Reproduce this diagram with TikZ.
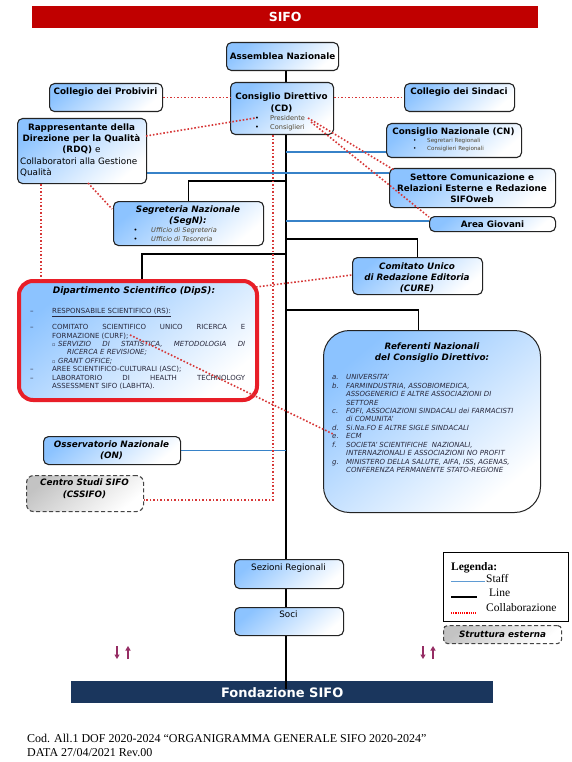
\documentclass[tikz,border=0pt]{standalone}
\usepackage{fontspec}
\setmainfont{DejaVu Sans}
\newfontfamily\tnr{Liberation Serif}
\usetikzlibrary{arrows.meta}
\pgfdeclarelayer{bg}
\pgfsetlayers{bg,main}
\definecolor{sifored}{RGB}{192,0,0}
\definecolor{navy}{RGB}{26,54,93}
\definecolor{boxblue}{RGB}{140,195,255}
\definecolor{boxline}{RGB}{35,35,35}
\definecolor{dipred}{RGB}{232,30,40}
\definecolor{staffblue}{RGB}{55,130,200}
\definecolor{collabred}{RGB}{215,55,55}
\definecolor{bultext}{RGB}{80,70,50}
\definecolor{listtext}{RGB}{40,40,60}
\definecolor{arrowpurple}{RGB}{150,45,100}
\definecolor{greyfill}{RGB}{195,195,195}
\newcommand{\fsb}{\fontsize{8.8}{11}\selectfont}
\tikzset{
 box/.style={draw=boxline, line width=1.1pt, rounded corners=5pt, top color=boxblue, bottom color=white, shading angle=40, inner sep=0pt, anchor=north west},
 extbox/.style={box, draw=boxline!85, dash pattern=on 4pt off 2.5pt, top color=greyfill, bottom color=white, shading angle=40},
 hd/.style={font=\fsb\bfseries, align=center, inner sep=0pt, anchor=north},
 hdi/.style={font=\fsb\bfseries\itshape, align=center, inner sep=0pt, anchor=north},
 rg/.style={font=\fsb, align=left, inner sep=0pt, anchor=north},
 small/.style={font=\fontsize{6.6}{9}\selectfont, text=bultext, inner sep=0pt, anchor=north west, align=left},
 legtxt/.style={font=\tnr\fontsize{11.5}{13}\selectfont, inner sep=0pt, anchor=north west},
 linek/.style={line width=1.6pt, black},
 staff/.style={line width=1.1pt, staffblue},
 collab/.style={line width=1.6pt, collabred, dash pattern=on 1.6pt off 1.9pt},
 arrowst/.style={arrowpurple, line width=1.6pt, -{Triangle[length=4.5pt,width=5pt]}},
}
\begin{document}
\begin{tikzpicture}[x=1pt,y=-1pt]
\useasboundingbox (0,0) rectangle (572,762);
\begin{pgfonlayer}{bg}
\fill[white] (0,0) rectangle (572,762);
\end{pgfonlayer}
\coordinate (M) at (286,0);

% title bar
\node[fill=sifored, minimum width=506pt, minimum height=22pt, inner sep=0pt, anchor=north west, text=white, font=\fontsize{12.5}{14}\selectfont\bfseries] (title) at (32,6) {SIFO};

% boxes
\node[box, minimum width=112pt, minimum height=28pt, font=\fsb\bfseries] (asm) at (226,42) {Assemblea Nazionale};

\node[box, minimum width=113pt, minimum height=28pt] (prob) at (49,83) {};
\node[hd] (prob-t) at (105.5,87.5) {Collegio dei Probiviri};

\node[box, minimum width=103pt, minimum height=52pt] (cd) at (230,82) {};
\node[hd] (cd-t) at (281.5,92.5) {Consiglio Direttivo\\[1pt](CD)};
\node[small] (cd-b) at (255,115.3) {\makebox[15pt][l]{\color{black}•}Presidente\\\makebox[15pt][l]{\color{black}•}Consiglieri};

\node[box, minimum width=110pt, minimum height=28pt] (sind) at (404,83) {};
\node[hd] (sind-t) at (459,87.5) {Collegio dei Sindaci};

\node[box, minimum width=129pt, minimum height=65pt] (rdq) at (17,118) {};
\node[hd] (rdq-t) at (81.5,123.5) {Rappresentante della\\Direzione per la Qualità\\(RDQ) {\mdseries e}};
\node[rg, anchor=north west] (rdq-t2) at (20,157.5) {Collaboratori alla Gestione\\Qualità};

\node[box, minimum width=135pt, minimum height=34pt] (cn) at (386,123) {};
\node[hd] (cn-t) at (453.5,127.5) {Consiglio Nazionale (CN)};
\node[small, font=\fontsize{5.6}{8}\selectfont] (cn-b) at (413,137.8) {\makebox[14pt][l]{\color{black}•}Segretari Regionali\\\makebox[14pt][l]{\color{black}•}Consiglieri Regionali};

\node[box, minimum width=166pt, minimum height=39pt] (set) at (389,168) {};
\node[hd] (set-t) at (472,173.5) {Settore Comunicazione e\\Relazioni Esterne e Redazione\\SIFOweb};

\node[box, minimum width=126pt, minimum height=15pt, font=\fsb\bfseries] (ag) at (429,216) {Area Giovani};

\node[box, minimum width=150pt, minimum height=44pt] (segn) at (113,201) {};
\node[hdi] (segn-t) at (188,205.5) {Segreteria Nazionale\\(SegN):};
\node[small, font=\fontsize{6.6}{8.5}\selectfont\itshape] (segn-b) at (133.5,227.4) {\makebox[17.5pt][l]{\color{black}\upshape•}Ufficio di Segreteria\\\makebox[17.5pt][l]{\color{black}\upshape•}Ufficio di Tesoreria};

\node[box, minimum width=130pt, minimum height=37pt] (cure) at (352,257) {};
\node[hdi] (cure-t) at (417,262.5) {Comitato Unico\\di Redazione Editoria\\(CURE)};

\node[box, draw=dipred, line width=4pt, rounded corners=14pt, minimum width=238pt, minimum height=119pt] (dips) at (17,279) {};
\node[hdi, font=\fontsize{9}{11}\selectfont\bfseries\itshape] (dips-t) at (134,286.5) {Dipartimento Scientifico (DipS):};
\node[inner sep=0pt, anchor=north west, font=\fontsize{7}{8.4}\selectfont, text=listtext] (dips-l) at (30,307.7) {%
\begin{tabular}{@{}l@{}l@{}}
\makebox[22pt][l]{–}&\underline{RESPONSABILE SCIENTIFICO (RS):}\\[7.6pt]
–&\makebox[193pt][s]{COMITATO SCIENTIFICO UNICO RICERCA E}\\
&FORMAZIONE (CURF);\\
&\makebox[193pt][s]{\itshape\makebox[6pt][l]{\fontsize{5}{5}\selectfont▫}SERVIZIO DI STATISTICA, METODOLOGIA DI}\\
&\hspace{15pt}\itshape RICERCA E REVISIONE;\\
&\itshape\makebox[6pt][l]{\fontsize{5}{5}\selectfont▫}GRANT OFFICE;\\
–&AREE SCIENTIFICO-CULTURALI (ASC);\\
–&\makebox[193pt][s]{LABORATORIO DI HEALTH TECHNOLOGY}\\
&ASSESSMENT SIFO (LABHTA).
\end{tabular}};

\node[box, rounded corners=26pt, line width=1pt, minimum width=217pt, minimum height=182pt] (ref) at (323,330) {};
\node[hdi] (ref-t) at (432,342.5) {Referenti Nazionali\\del Consiglio Direttivo:};
\node[inner sep=0pt, anchor=north west, font=\fontsize{7}{8.45}\selectfont\itshape, text=listtext] (ref-l) at (332,373.6) {%
\begin{tabular}{@{}l@{}l@{}}
\makebox[14pt][l]{a.}&UNIVERSITA’\\
b.&FARMINDUSTRIA, ASSOBIOMEDICA,\\
&ASSOGENERICI E ALTRE ASSOCIAZIONI DI\\
&SETTORE\\
c.&FOFI, ASSOCIAZIONI SINDACALI dei FARMACISTI\\
&di COMUNITA’\\
d.&Si.Na.FO E ALTRE SIGLE SINDACALI\\
e.&ECM\\
f.&SOCIETA’ SCIENTIFICHE\ \ NAZIONALI,\\
&INTERNAZIONALI E ASSOCIAZIONI NO PROFIT\\
g.&MINISTERO DELLA SALUTE, AIFA, ISS, AGENAS,\\
&CONFERENZA PERMANENTE STATO-REGIONE
\end{tabular}};

\node[box, minimum width=137pt, minimum height=28pt] (on) at (43,436) {};
\node[hdi] (on-t) at (111.5,440.5) {Osservatorio Nazionale\\(ON)};

\node[extbox, rounded corners=7pt, minimum width=117pt, minimum height=36pt] (css) at (26,475) {};
\node[hdi] (css-t) at (84.5,478.5) {Centro Studi SIFO\\[1pt](CSSIFO)};

\node[box, minimum width=109pt, minimum height=29pt] (sez) at (234,559) {};
\node[rg] (sez-t) at (288.5,563.5) {Sezioni Regionali};
\node[box, minimum width=109pt, minimum height=28pt] (soci) at (234,607) {};
\node[rg] (soci-t) at (288.5,610.5) {Soci};

% legend
\node[draw=black, line width=0.8pt, fill=white, minimum width=125pt, minimum height=69pt, anchor=north west, inner sep=0pt] (leg) at (443,552) {};
\node[legtxt, font=\tnr\fontsize{11.5}{13}\selectfont\bfseries] (leg-t) at (451,562) {Legenda:};
\node[legtxt] (leg-s) at (486,573.9) {Staff};
\node[legtxt] (leg-l) at (489,588.9) {Line};
\node[legtxt] (leg-c) at (486,602.9) {Collaborazione};
\coordinate (ls1) at (451,581); \coordinate (ls2) at (485,581);
\coordinate (lk1) at (451,597); \coordinate (lk2) at (477,597);
\coordinate (lc1) at (451,613); \coordinate (lc2) at (477,613);
\draw[staffblue!80, line width=1pt] (ls1) -- (ls2);
\draw[black, line width=1.5pt] (lk1) -- (lk2);
\draw[red, line width=1.1pt, dash pattern=on 1.1pt off 1.1pt] (lc1) -- (lc2);
\node[extbox, rounded corners=4pt, minimum width=118pt, minimum height=18pt, font=\fsb\bfseries\itshape] (ext) at (443,625) {Struttura esterna};

% Fondazione bar
\node[fill=navy, minimum width=422pt, minimum height=22pt, anchor=north west, inner sep=0pt, text=white, font=\fontsize{13}{15}\selectfont\bfseries] (fond) at (71,681) {Fondazione SIFO};
\coordinate (fend) at (286,689);
\draw[linek] (soci.south -| M) -- (fend);

% arrows
\draw[arrowst] (117,646) -- (117,659);
\draw[arrowst] (128,659) -- (128,646);
\draw[arrowst] (423,646) -- (423,659);
\draw[arrowst] (433,659) -- (433,646);

% footer
\node[anchor=north west, inner sep=0pt, align=left, font=\tnr\fontsize{12}{14}\selectfont] (foot) at (27,733.8) {Cod. All.1 DOF 2020-2024 “ORGANIGRAMMA GENERALE SIFO 2020-2024”\\DATA 27/04/2021 Rev.00};

% junction coordinates
\coordinate (j1) at (286,181);
\coordinate (j2) at (286,239);
\coordinate (j3) at (286,254);
\coordinate (j4) at (286,310);
\coordinate (j5) at (286,152);
\coordinate (j6) at (286,221);
\coordinate (s2) at (146,173);

\begin{pgfonlayer}{bg}
% line connections
\draw[linek] (asm.south -| M) -- (cd.north -| M);
\draw[linek] (cd.south -| M) -- (sez.north -| M);
\draw[linek] (sez.south -| M) -- (soci.north -| M);
\draw[linek] (j1) -| (segn.north);
\draw[linek] (j2) -| (cure.north);
\draw[linek] (j3) -| ([xshift=4pt]dips.north);
\draw[linek] (j4) -| ([xshift=-13.5pt]ref.north);
% staff
\draw[staff] (j5) -- (j5 -| cn.west);
\draw[staff] (s2) -- (s2 -| set.west);
\draw[staff] (j6) -- (j6 -| ag.west);
\draw[staff] (on.east) -- (on.east -| M);
\end{pgfonlayer}

% collaboration
\coordinate (cdp1) at (255,118);
\coordinate (cdp2) at (308,118);
\coordinate (cdp3) at (311,122);
\coordinate (rdqa) at (146,136);
\coordinate (cv) at (273,500);
\coordinate (dx) at (41,0);
\coordinate (rsa) at (88,183);
\coordinate (rsb) at (112,209);
\coordinate (dca) at (256,287);
\coordinate (dcb) at (352,275);
\coordinate (dra) at (130,335);
\coordinate (drb) at (333,434);
\draw[collab] (prob.east) -- (prob.east -| cd.west);
\draw[collab] (sind.west -| cd.east) -- (sind.west);
\draw[collab] (rdqa) -- (cdp1);
\draw[collab] (cdp2) -- ([xshift=5pt,yshift=-2pt]set.north west);
\draw[collab] (cdp3) -- ([yshift=-1pt]ag.north west);
\draw[collab] (cd.south -| cv) -- (cv) -- (cv -| css.east);
\draw[collab] (rdq.south -| dx) -- (dips.north -| dx);
\draw[collab] (rsa) -- (rsb);
\draw[collab] (dca) -- (dcb);
\draw[collab] (dra) -- (drb);
\end{tikzpicture}
\end{document}
